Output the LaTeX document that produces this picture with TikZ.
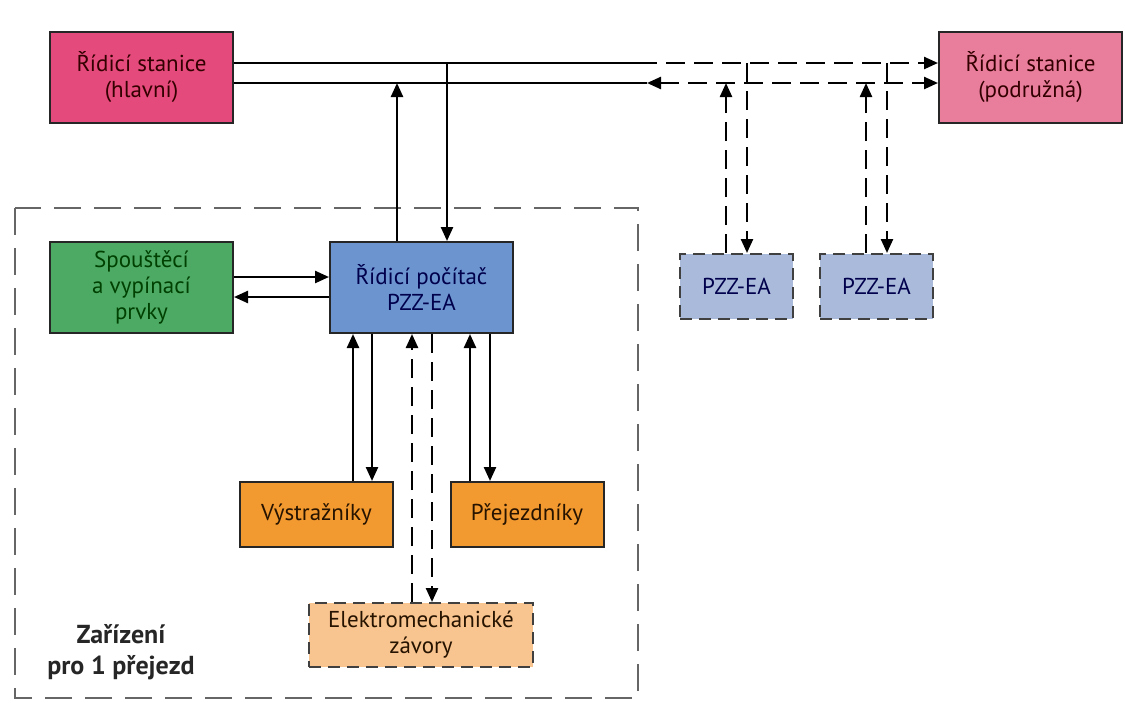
\documentclass[tikz,border=0pt]{standalone}
\usepackage{fontspec}
\setmainfont{PT Sans}
\usetikzlibrary{arrows.meta}

\definecolor{stanhl}{HTML}{E44A7B}
\definecolor{stanpod}{HTML}{E97D9C}
\definecolor{spoust}{HTML}{4DAA64}
\definecolor{pocitac}{HTML}{6C95CF}
\definecolor{pzzmodra}{HTML}{A9BADB}
\definecolor{oranz}{HTML}{F2992F}
\definecolor{zavory}{HTML}{F8C48F}

\begin{document}
\begin{tikzpicture}[x=1pt,y=-1pt,
  box/.style={draw=black!85, line width=2pt, minimum width=183pt, minimum height=91pt,
    align=center, inner sep=0pt, font=\fontsize{23}{26}\selectfont},
  smallbox/.style={box, minimum width=153pt, minimum height=65pt},
  dashbox/.style={box, draw=black!75, dash pattern=on 12pt off 7pt},
  link/.style={line width=2.4pt},
  dashlink/.style={link, dash pattern=on 19pt off 9pt},
  >={Triangle[length=14pt,width=12pt]}]
\useasboundingbox (0,0) rectangle (1125,702);

% device for one crossing
\draw[line width=2.2pt, draw=black!60, dash pattern=on 27pt off 13pt] (15,208) rectangle (638,698);
\node[align=center, font=\fontsize{26}{31}\selectfont\bfseries, text=black!85] (frameLabel) at (121,652) {Zařízení\\pro 1 přejezd};

% stations
\node[box, fill=stanhl, text=black!80!red] (main) at (141.5,77.5) {Řídicí stanice\\(hlavní)};
\node[box, fill=stanpod, text=black!80!red] (sub) at (1030.5,77.5) {Řídicí stanice\\(podružná)};

% crossing equipment
\node[box, fill=spoust, text=black!75!green] (start) at (141.5,287.5) {Spouštěcí\\a vypínací\\prvky};
\node[box, fill=pocitac, text=black!70!blue] (comp) at (421.5,287.5) {Řídicí počítač\\PZZ-EA};
\node[smallbox, fill=oranz, text=black!85!orange] (warn) at (316.5,514.5) {Výstražníky};
\node[smallbox, fill=oranz, text=black!85!orange] (cross) at (527,514.5) {Přejezdníky};
\node[dashbox, fill=zavory, minimum width=224pt, minimum height=64pt, text=black!85!orange] (barrier) at (421,635) {Elektromechanické\\závory};

% other crossings
\node[dashbox, fill=pzzmodra, minimum width=113pt, minimum height=65pt, text=black!70!blue] (pzzA) at (736.5,286.5) {PZZ-EA};
\node[dashbox, fill=pzzmodra, minimum width=113pt, minimum height=65pt, text=black!70!blue] (pzzB) at (876.5,286.5) {PZZ-EA};

% bus lines
\coordinate (busA) at (0,63);
\coordinate (busB) at (0,83);
\coordinate (endA) at (638,63);
\coordinate (endB) at (647,83);
\draw[link] (main.east |- busA) -- (endA);
\draw[dashlink,->] (endA) -- (sub.west |- busA);
\draw[link] (main.east |- busB) -- (endB);
\draw[dashlink,<->] (endB) -- (sub.west |- busB);

% start elements
\coordinate (rowA) at (0,277);
\coordinate (rowB) at (0,297);
\draw[link,->] (start.east |- rowA) -- (comp.west |- rowA);
\draw[link,->] (comp.west |- rowB) -- (start.east |- rowB);

% vertical links
\foreach \x/\src/\dst/\kind in {
  397/comp.north/busB/link, 447/busA/comp.north/link,
  353/warn.north/comp.south/link, 372/comp.south/warn.north/link,
  412/barrier.north/comp.south/dashlink, 432/comp.south/barrier.north/dashlink,
  470/cross.north/comp.south/link, 490/comp.south/cross.north/link,
  726/pzzA.north/busB/dashlink, 747/busA/pzzA.north/dashlink,
  866/pzzB.north/busB/dashlink, 887/busA/pzzB.north/dashlink}
{
  \coordinate (vx) at (\x,0);
  \draw[\kind,->] (\src -| vx) -- (\dst -| vx);
}
\end{tikzpicture}
\end{document}
